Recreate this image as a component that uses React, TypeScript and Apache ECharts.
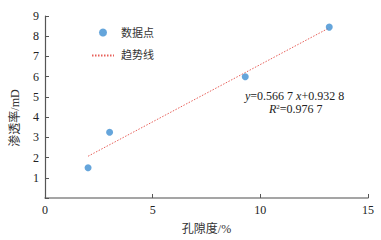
import React, { useEffect, useRef } from "react";
import * as echarts from "echarts";

const porosity = [2.0, 3.0, 9.3, 13.2];
const permeability = [1.5, 3.25, 6.0, 8.45];
const trendX = [2.0, 13.2];
const trendY = [2.066, 8.413];
const xTicks = [0, 5, 10, 15];
const yTicks = [0, 1, 2, 3, 4, 5, 6, 7, 8, 9];

const serif = "'Liberation Serif', 'Noto Sans CJK SC', serif";

export default function App() {
  const ref = useRef<HTMLDivElement>(null);
  useEffect(() => {
    const chart = echarts.init(ref.current!, null, { renderer: "svg" });
    chart.setOption({
      animation: false,
      textStyle: { fontFamily: serif },
      grid: { left: 45, right: 13, top: 16, bottom: 34 },
      legend: {
        orient: "vertical",
        left: 86,
        top: 22,
        itemGap: 12,
        itemWidth: 22,
        itemHeight: 8,
        textStyle: { fontSize: 11, color: "#333", fontFamily: serif, padding: [0, 0, 0, 2] },
        data: [
          { name: "数据点", icon: "circle" },
          { name: "趋势线", itemStyle: { opacity: 0 } },
        ],
      },
      xAxis: {
        type: "value",
        min: xTicks[0],
        max: xTicks[xTicks.length - 1],
        interval: 5,
        name: "孔隙度/%",
        nameLocation: "middle",
        nameGap: 25,
        nameTextStyle: { fontSize: 12, color: "#333", fontFamily: serif },
        axisLine: { lineStyle: { color: "#888", width: 1.5 } },
        axisTick: { inside: true, length: 4, lineStyle: { color: "#555" } },
        axisLabel: { fontSize: 12, color: "#222", margin: 6, fontFamily: serif },
        splitLine: { show: false },
      },
      yAxis: {
        type: "value",
        min: yTicks[0],
        max: yTicks[yTicks.length - 1],
        interval: 1,
        axisLine: { show: true, lineStyle: { color: "#555", width: 1.2 } },
        axisTick: { show: true, inside: true, length: 4, lineStyle: { color: "#555" } },
        axisLabel: {
          fontSize: 12,
          color: "#222",
          margin: 6,
          fontFamily: serif,
          formatter: (v: number) => (v === 0 ? "" : String(v)),
        },
        splitLine: { show: false },
      },
      series: [
        {
          name: "数据点",
          type: "scatter",
          symbolSize: 7,
          itemStyle: { color: "#3f8fd2" },
          data: porosity.map((x, i) => [x, permeability[i]]),
          z: 3,
        },
        {
          name: "趋势线",
          type: "line",
          symbol: "none",
          lineStyle: { color: "#e8605a", width: 1, type: [1.5, 1.5] },
          itemStyle: { color: "#e8605a" },
          data: trendX.map((x, i) => [x, trendY[i]]),
          z: 2,
        },
      ],
      graphic: [
        {
          type: "text",
          x: 15,
          y: 118,
          rotation: Math.PI / 2,
          style: {
            text: "渗透率/mD",
            font: "12px 'Liberation Serif', 'Noto Sans CJK SC', serif",
            fill: "#333",
            textAlign: "center",
            textVerticalAlign: "middle",
          },
        },
        {
          type: "text",
          left: 245,
          top: 90,
          style: {
            text: "{i|y}=0.566 7 {i|x}+0.932 8",
            font: "12px 'Liberation Serif', serif",
            fill: "#222",
            rich: {
              i: { fontStyle: "italic", fontSize: 12, fontFamily: "'Liberation Serif', serif", fill: "#222" },
            },
          },
        },
        {
          type: "text",
          left: 269,
          top: 103,
          style: {
            text: "{i|R}{s|2}=0.976 7",
            font: "12px 'Liberation Serif', serif",
            fill: "#222",
            rich: {
              i: { fontStyle: "italic", fontSize: 12, fontFamily: "'Liberation Serif', serif", fill: "#222" },
              s: { fontSize: 7, verticalAlign: "top", fontFamily: "'Liberation Serif', serif", fill: "#222" },
            },
          },
        },
      ],
    });
    return () => chart.dispose();
  }, []);
  return <div ref={ref} style={{ width: 381, height: 240, position: "absolute", left: 0, top: 0 }} />;
}
